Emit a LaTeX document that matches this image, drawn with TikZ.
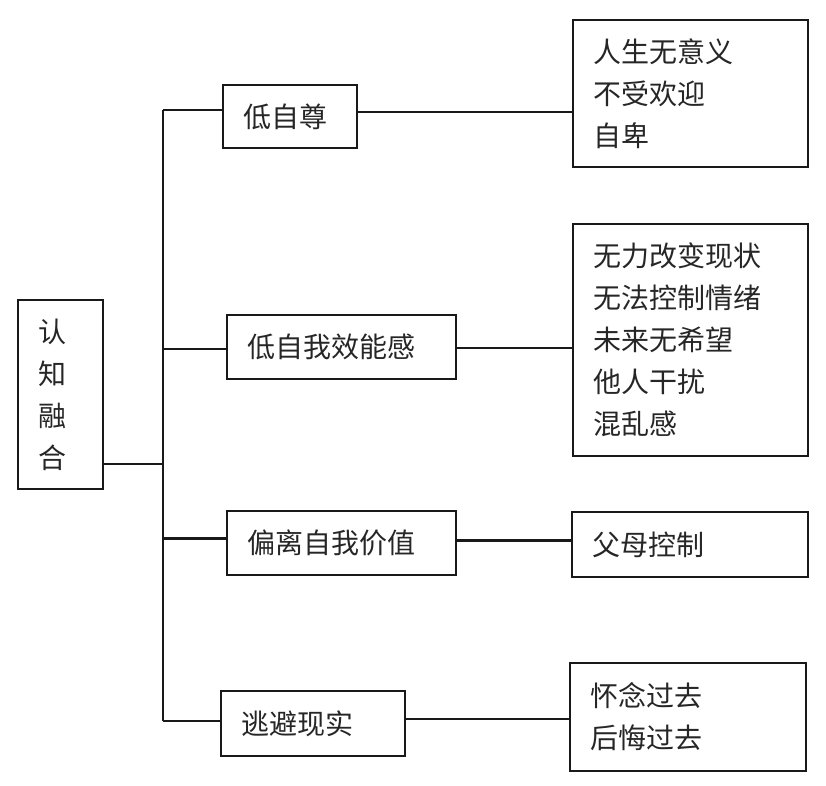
\documentclass[tikz,border=0pt]{standalone}
\usepackage{fontspec}
\setmainfont{Noto Sans CJK SC}
\begin{document}
\begin{tikzpicture}[x=1pt,y=-1pt,
  box/.style={draw=black!90, line width=2.3pt, rectangle, align=left,
    inner xsep=20pt, inner ysep=0pt,
    font=\fontsize{28}{42}\selectfont, text=black!85},
  conn/.style={draw=black!90, line width=2.5pt}]
\useasboundingbox (0,0) rectangle (826,785);
% left root box
\node[box, minimum width=85pt, minimum height=189pt, text width=45pt] (L) at (60.5,394.5) {认\\知\\融\\合};
% branch boxes
\node[box, minimum width=134pt, minimum height=63pt, text width=94pt] (b1) at (290,116.5) {低自尊};
\node[box, minimum width=229pt, minimum height=64pt, text width=189pt] (b2) at (341.5,347) {低自我效能感};
\node[box, minimum width=229pt, minimum height=64pt, text width=189pt] (b3) at (341.5,543.3) {偏离自我价值};
\node[box, minimum width=182pt, minimum height=65pt, text width=144pt] (b4) at (313,723.5) {逃避现实};
% right boxes
\node[box, minimum width=235pt, minimum height=147pt, text width=195pt] (r1) at (690.5,93.5) {人生无意义\\不受欢迎\\自卑};
\node[box, minimum width=235pt, minimum height=232pt, text width=195pt] (r2) at (690.5,340) {无力改变现状\\无法控制情绪\\未来无希望\\他人干扰\\混乱感};
\node[box, minimum width=236pt, minimum height=65pt, text width=196pt] (r3) at (690,544.5) {父母控制};
\node[box, minimum width=236pt, minimum height=108pt, text width=196pt] (r4) at (688,717) {怀念过去\\后悔过去};
% trunk
\coordinate (tt) at (163,110);
\coordinate (tb) at (163,721);
\draw[conn] (tt) -- (tb);
\draw[conn] ([yshift=-69.5pt]L.east) -- ([yshift=-69.5pt]L.east -| tt);
\draw[conn] (tt) -- (tt -| b1.west);
\draw[conn] ([yshift=-2pt]b2.west) -- ([yshift=-2pt]b2.west -| tt);
\draw[conn] ([yshift=5pt]b3.west) -- ([yshift=5pt]b3.west -| tt);
\draw[conn] (tb) -- (tb -| b4.west);
% branch to leaf
\draw[conn] ([yshift=4.5pt]b1.east) -- ([yshift=4.5pt]b1.east -| r1.west);
\draw[conn] ([yshift=-1pt]b2.east) -- ([yshift=-1pt]b2.east -| r2.west);
\draw[conn] ([yshift=3pt]b3.east) -- ([yshift=3pt]b3.east -| r3.west);
\draw[conn] ([yshift=4.5pt]b4.east) -- ([yshift=4.5pt]b4.east -| r4.west);
\end{tikzpicture}
\end{document}
